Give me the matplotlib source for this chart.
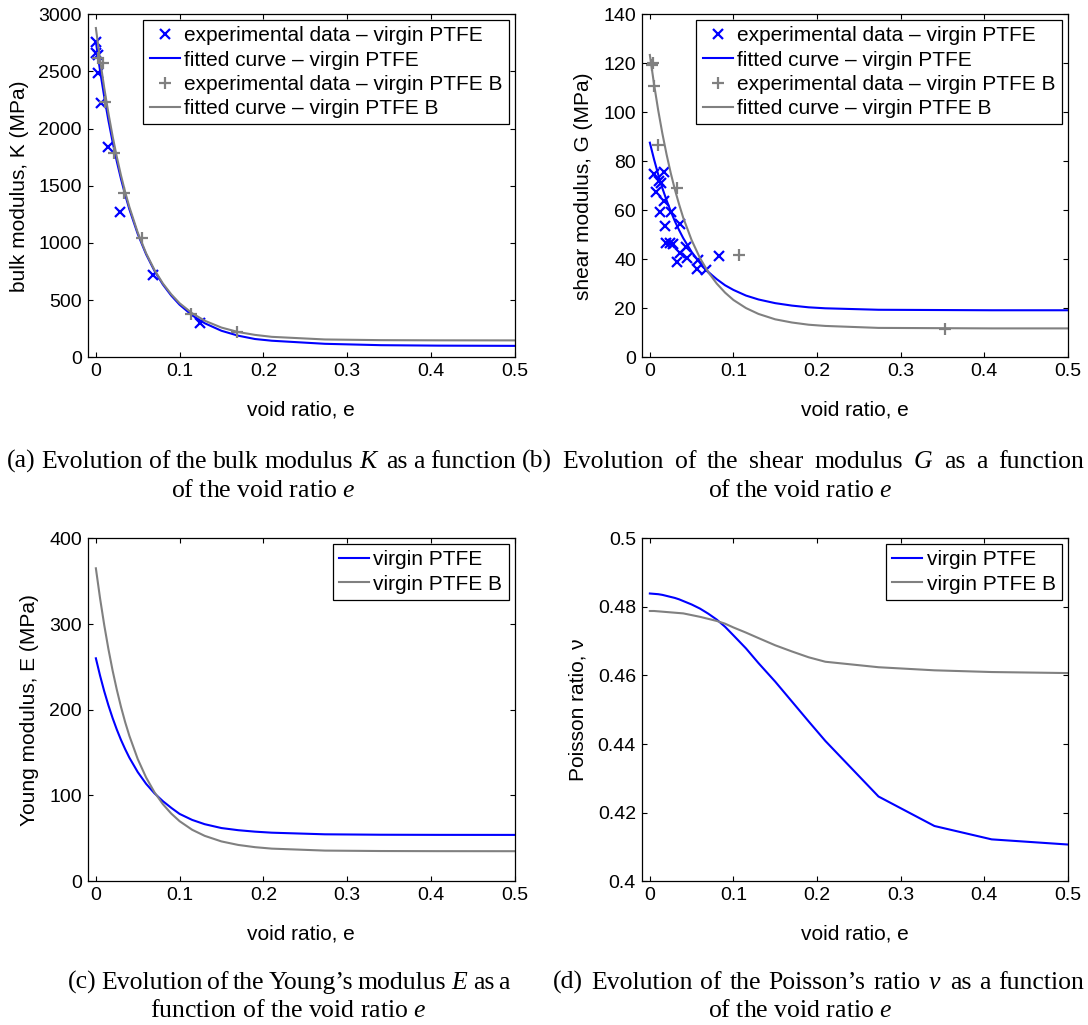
import matplotlib
matplotlib.use('Agg')
import matplotlib.pyplot as plt

plt.rcParams['font.family'] = ['Liberation Sans', 'DejaVu Sans']
plt.rcParams['mathtext.fontset'] = 'custom'
plt.rcParams['mathtext.rm'] = 'Liberation Serif'
plt.rcParams['mathtext.it'] = 'Liberation Serif:italic'

# ---------------- data ----------------
# common void-ratio grid of the fitted / derived curves
e_fit = [0, 0.005, 0.01, 0.015, 0.02, 0.025, 0.03, 0.035, 0.04, 0.05, 0.06, 0.07,
         0.08, 0.09, 0.10, 0.115, 0.13, 0.15, 0.17, 0.19, 0.21, 0.2736, 0.3405,
         0.409, 0.5]

# (a) bulk modulus K (MPa)
K_fit_virgin = [2760, 2507, 2278, 2071, 1883, 1713, 1560, 1421, 1295, 1079, 901, 756,
                637, 540, 460, 367, 298, 232, 189, 160, 145, 118, 106, 102, 100]
K_fit_virginB = [2880, 2604, 2356, 2134, 1933, 1753, 1591, 1445, 1315, 1091, 910, 764,
                 646, 551, 473, 385, 320, 260, 221, 196, 179, 156, 150, 148.5, 148]
eK_exp_virgin = [0.0, 0.0, 0.002, 0.0028, 0.006, 0.014, 0.0287, 0.0685, 0.1243]
K_exp_virgin = [2760, 2664, 2640, 2484, 2227, 1842, 1273, 720, 297]
eK_exp_virginB = [0.0028, 0.0088, 0.0108, 0.0219, 0.0335, 0.0554, 0.1135, 0.168]
K_exp_virginB = [2615, 2571, 2236, 1790, 1434, 1041, 376, 224]

# (b) shear modulus G (MPa)
G_fit_virgin = [87.6, 80.8, 74.6, 69.0, 64.1, 59.6, 55.5, 51.9, 48.6, 43.0, 38.5, 34.8,
                31.9, 29.4, 27.5, 25.2, 23.6, 22.1, 21.1, 20.4, 20.0, 19.4, 19.3, 19.2, 19.2]
G_fit_virginB = [123.4, 111.5, 100.8, 91.3, 82.8, 75.2, 68.4, 62.4, 56.9, 47.8, 40.5, 34.7,
                 30.1, 26.4, 23.4, 20.1, 17.7, 15.5, 14.2, 13.3, 12.8, 12.0, 11.9, 11.8, 11.8]
eG_exp_virgin = [0.0044, 0.0164, 0.0108, 0.0128, 0.0076, 0.0168, 0.0124, 0.0256, 0.0176,
                 0.0355, 0.0188, 0.0236, 0.0276, 0.0427, 0.0355, 0.0443, 0.0327, 0.0575,
                 0.0563, 0.0675, 0.0827]
G_exp_virgin = [74.8, 75.5, 72.1, 71.0, 67.6, 63.8, 59.2, 59.2, 53.7, 54.3, 46.8, 46.8,
                46.3, 44.9, 42.4, 40.4, 39.0, 39.7, 36.1, 35.6, 41.5]
eG_exp_virginB = [0.0028, 0.0036, 0.0048, 0.0096, 0.0327, 0.1066, 0.353]
G_exp_virginB = [119.3, 120.2, 110.7, 86.7, 69.0, 41.8, 11.6]

# (c) Young modulus E (MPa)
E_virgin = [260, 239.8, 221.5, 205.1, 190.3, 176.9, 164.8, 154.0, 144.1, 127.3, 113.6, 102.5,
            93.4, 85.6, 78.5, 71.5, 66.5, 62.0, 59.5, 57.8, 56.6, 54.7, 54.2, 54.05, 54.0]
E_virginB = [365, 330, 298.7, 270.7, 245.7, 223.4, 203.4, 185.5, 169.6, 142.5, 121.0, 103.7,
             89.9, 78.9, 70.0, 60.0, 52.9, 46.4, 42.3, 39.7, 38.0, 35.7, 35.2, 35.05, 35.0]

# (d) Poisson ratio nu
nu_virgin = [0.4839, 0.4838, 0.4837, 0.4835, 0.4832, 0.4829, 0.4826, 0.4822, 0.4817, 0.4807,
             0.4795, 0.4780, 0.4763, 0.4742, 0.4717, 0.4679, 0.4636, 0.4582, 0.4524, 0.4466,
             0.4409, 0.4247, 0.4161, 0.4122, 0.4107]
nu_virginB = [0.4788, 0.4788, 0.4787, 0.4786, 0.4785, 0.4784, 0.4783, 0.4782, 0.4781, 0.4776,
              0.4771, 0.4765, 0.4759, 0.4751, 0.4740, 0.4725, 0.4709, 0.4688, 0.4670, 0.4653,
              0.4640, 0.4624, 0.4615, 0.4610, 0.4607]

x_ticks = [0, 0.1, 0.2, 0.3, 0.4, 0.5]
x_ticklabels = ['0', '0.1', '0.2', '0.3', '0.4', '0.5']

captions = {
    'a': ('(a) Evolution of the bulk modulus $K$ as a function', 'of the void ratio $e$'),
    'b': ('(b) Evolution of the shear modulus $G$ as a function', 'of the void ratio $e$'),
    'c': ('(c) Evolution of the Young’s modulus $E$ as a', 'function of the void ratio $e$'),
    'd': ('(d) Evolution of the Poisson’s ratio $\\nu$ as a function', 'of the void ratio $e$'),
}

BLUE = '#0000ff'
GRAY = '#808080'

# ---------------- figure ----------------
W, H = 1088, 1025
fig = plt.figure(figsize=(W / 100, H / 100), dpi=100)


def ax_at(l, t, r, b):
    return fig.add_axes([l / W, 1 - b / H, (r - l) / W, (b - t) / H])


def style(ax, ylim, yticks, yticklabels, ylabel):
    ax.set_xlim(-0.01, 0.5)
    ax.set_xticks(x_ticks)
    ax.set_xticklabels(x_ticklabels)
    ax.set_ylim(*ylim)
    ax.set_yticks(yticks)
    ax.set_yticklabels(yticklabels)
    ax.tick_params(direction='in', top=True, right=True, length=3.5, width=0.8,
                   labelsize=14, pad=4, colors='black')
    for s in ax.spines.values():
        s.set_linewidth(0.9)
    ax.set_xlabel('void ratio, e', fontsize=15, labelpad=15)
    ax.set_ylabel(ylabel, fontsize=15, labelpad=7)


def legend(ax):
    lg = ax.legend(loc='upper right', fontsize=15, frameon=True, fancybox=False,
                   edgecolor='black', framealpha=1, borderaxespad=0.28,
                   borderpad=0.3, labelspacing=0.25, handlelength=1.45,
                   handletextpad=0.2, numpoints=1)
    lg.get_frame().set_linewidth(0.9)


ms_x, ms_p, mew = 6.5, 8, 1.6
lw = 1.5

# (a)
axA = ax_at(87.5, 14.3, 514.5, 357.3)
axA.plot(eK_exp_virgin, K_exp_virgin, linestyle='none', marker='x', ms=ms_x, mew=mew,
         color=BLUE, label='experimental data – virgin PTFE')
axA.plot(e_fit, K_fit_virgin, color=BLUE, lw=lw, label='fitted curve – virgin PTFE')
axA.plot(eK_exp_virginB, K_exp_virginB, linestyle='none', marker='+', ms=ms_p, mew=mew,
         color=GRAY, label='experimental data – virgin PTFE B')
axA.plot(e_fit, K_fit_virginB, color=GRAY, lw=lw, label='fitted curve – virgin PTFE B')
style(axA, (0, 3000), [0, 500, 1000, 1500, 2000, 2500, 3000],
      ['0', '500', '1000', '1500', '2000', '2500', '3000'], 'bulk modulus, K (MPa)')
legend(axA)

# (b)
axB = ax_at(641.5, 14.3, 1067.7, 357.3)
axB.plot(eG_exp_virgin, G_exp_virgin, linestyle='none', marker='x', ms=ms_x, mew=mew,
         color=BLUE, label='experimental data – virgin PTFE')
axB.plot(e_fit, G_fit_virgin, color=BLUE, lw=lw, label='fitted curve – virgin PTFE')
axB.plot(eG_exp_virginB, G_exp_virginB, linestyle='none', marker='+', ms=ms_p, mew=mew,
         color=GRAY, label='experimental data – virgin PTFE B')
axB.plot(e_fit, G_fit_virginB, color=GRAY, lw=lw, label='fitted curve – virgin PTFE B')
style(axB, (0, 140), list(range(0, 141, 20)), [str(v) for v in range(0, 141, 20)],
      'shear modulus, G (MPa)')
legend(axB)

# (c)
axC = ax_at(87.5, 538.3, 514.5, 881.2)
axC.plot(e_fit, E_virgin, color=BLUE, lw=lw, label='virgin PTFE')
axC.plot(e_fit, E_virginB, color=GRAY, lw=lw, label='virgin PTFE B')
style(axC, (0, 400), [0, 100, 200, 300, 400], ['0', '100', '200', '300', '400'],
      'Young modulus, E (MPa)')
legend(axC)

# (d)
axD = ax_at(641.5, 538.3, 1067.7, 881.2)
axD.plot(e_fit, nu_virgin, color=BLUE, lw=lw, label='virgin PTFE')
axD.plot(e_fit, nu_virginB, color=GRAY, lw=lw, label='virgin PTFE B')
style(axD, (0.4, 0.5), [0.4, 0.42, 0.44, 0.46, 0.48, 0.5],
      ['0.4', '0.42', '0.44', '0.46', '0.48', '0.5'], 'Poisson ratio, ν')
legend(axD)

# ---------------- captions (first line justified, second centred) ----------------
capfont = dict(fontfamily='Liberation Serif', fontsize=18.5, va='baseline')
renderer = fig.canvas.get_renderer()


def justified(text, x0, x1, ybase):
    words = text.split(' ')
    ts = [fig.text(0, 1 - ybase / H, w, ha='left', **capfont) for w in words]
    widths = [t.get_window_extent(renderer).width for t in ts]
    gap = (x1 - x0 - sum(widths)) / (len(words) - 1)
    x = x0
    for t, w in zip(ts, widths):
        t.set_x(x / W)
        x += w + gap


def centred(text, xc, ybase):
    fig.text(xc / W, 1 - ybase / H, text, ha='center', **capfont)


justified(captions['a'][0], 7, 516, 468)
centred(captions['a'][1], 263, 497)
justified(captions['b'][0], 522, 1084, 468)
centred(captions['b'][1], 800, 497)
justified(captions['c'][0], 68, 510, 989)
centred(captions['c'][1], 288, 1017)
justified(captions['d'][0], 553, 1084, 989)
centred(captions['d'][1], 800, 1017)

fig.savefig('out.png', dpi=100)
